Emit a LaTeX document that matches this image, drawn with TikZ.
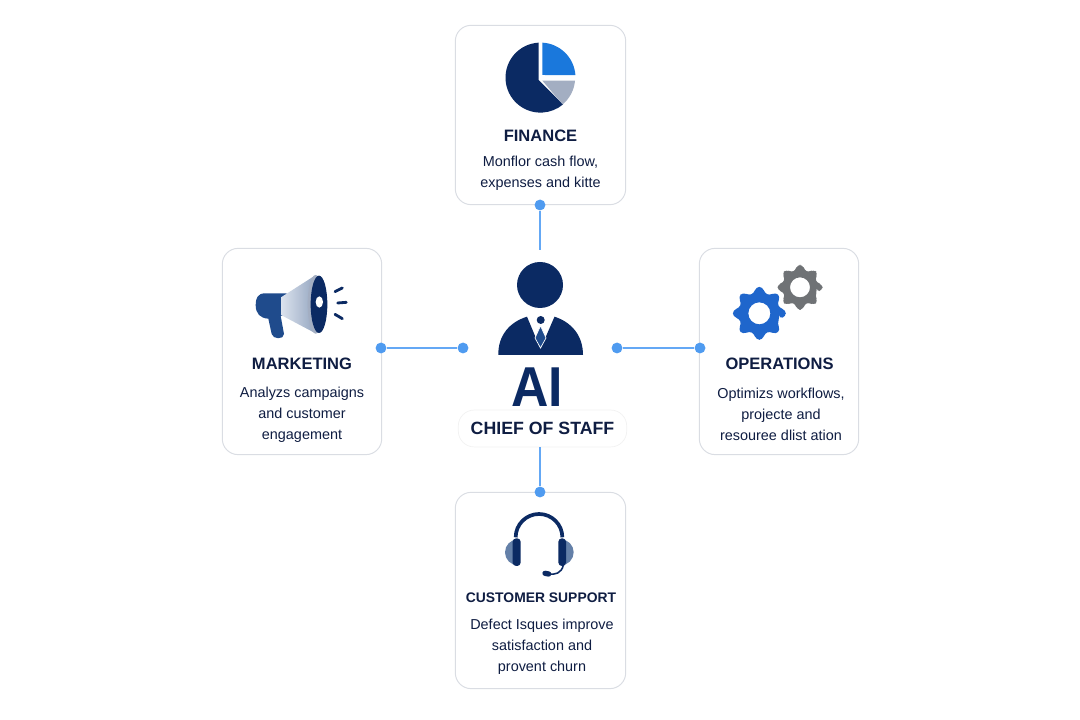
\documentclass[tikz,border=0pt]{standalone}
\usepackage{fontspec}
\setmainfont{Liberation Sans}
\definecolor{navy}{HTML}{0B2A63}
\definecolor{inkblue}{HTML}{0F1D42}
\definecolor{linkblue}{HTML}{64A8F5}
\definecolor{dotblue}{HTML}{4F9BF0}
\definecolor{edgegrey}{HTML}{DADDE3}
\definecolor{pieblue}{HTML}{1A78DC}
\definecolor{piegrey}{HTML}{A3AEC2}
\definecolor{hornblue}{HTML}{1F4B8C}
\definecolor{hornlight}{HTML}{DCE3EE}
\definecolor{horndark}{HTML}{97A8C2}
\definecolor{cogblue}{HTML}{1F66CC}
\definecolor{coggrey}{HTML}{6F7275}
\definecolor{padblue}{HTML}{6480A8}
\newcommand{\cogwheel}[6]{%
  \begin{scope}[shift={(#1,#2)}]
  \fill[#6, even odd rule, rounded corners=2pt] (-15:#4)
    \foreach \a in {0,45,...,315} { -- (\a-15:#4) -- (\a-7:#3) -- (\a+7:#3) -- (\a+15:#4) } -- cycle
    (0,0) circle (#5);
  \end{scope}}
\begin{document}
\begin{tikzpicture}[
  x=0.2mm, y=0.2mm,
  card/.style={draw=edgegrey, fill=white, line width=0.55pt, rounded corners=9pt},
  heading/.style={font=\fontsize{9.4}{11}\selectfont\bfseries, text=inkblue, inner sep=0pt},
  body/.style={font=\fontsize{8.2}{11.9}\selectfont, text=inkblue, align=center, inner sep=0pt},
  link/.style={draw=linkblue, line width=1.1pt},
  dot/.style={circle, fill=dotblue, inner sep=0pt, minimum size=6.2pt},
]
\useasboundingbox (0,0) rectangle (1080,720);
% cards
\node[card, minimum width=171*0.567pt, minimum height=180*0.567pt] (finance) at (540.5,605) {};
\node[card, minimum width=160*0.567pt, minimum height=207*0.567pt] (marketing) at (302,368.5) {};
\node[card, minimum width=160*0.567pt, minimum height=207*0.567pt] (operations) at (779,368.5) {};
\node[card, minimum width=171*0.567pt, minimum height=197*0.567pt] (support) at (540.5,129.5) {};
% centre labels
\node[font=\fontsize{32}{34}\selectfont\bfseries, text=navy, inner sep=0pt, xscale=0.92] (ai) at (537.5,333) {AI};
\node[draw=black!5, fill=white, line width=0.4pt, rounded corners=9pt, minimum width=169*0.567pt, minimum height=37*0.567pt,
  font=\fontsize{10.1}{12}\selectfont\bfseries, text=inkblue, inner sep=0pt] (pill) at (542.5,291.5) {CHIEF OF STAFF};
% connectors
\coordinate (fend) at (540,470);
\coordinate (mend) at (463,372);
\coordinate (oend) at (617,372);
\node[dot] (fdot) at (540,515) {};
\node[dot] (mdot) at (381,372) {};
\node[dot] (mend2) at (mend) {};
\node[dot] (odot) at (700,372) {};
\node[dot] (oend2) at (oend) {};
\node[dot] (sdot) at (540,228) {};
\draw[link] (fdot) -- (fend);
\draw[link] (mdot) -- (mend2);
\draw[link] (oend2) -- (odot);
\draw[link] (pill.south -| sdot) -- (sdot);
% person
\fill[navy] (540,435) circle (23);
\fill[navy] (498.3,365) .. controls (498,385) and (510,398) .. (527,403.3) -- (540.5,371) -- (554.5,403.3) .. controls (571,398) and (583,385) .. (583,365) -- cycle;
\fill[navy] (540.7,400) circle (4);
\fill[hornblue, draw=white, line width=0.4pt] (540.5,394.3) -- (535,382) -- (540.5,372) -- (546,382) -- cycle;
% finance
\node[heading] (financeh) at (540.5,584.5) {FINANCE};
\node[body] (financeb) at (540.5,546.5) {Monflor cash flow,\\expenses and kitte};
\begin{scope}[shift={(450,700)}, scale=1/3]
\fill[navy] (266,-180) -- (266,-68) arc[start angle=93, end angle=310, radius=105] -- cycle;
\fill[pieblue] (277,-165) -- (277,-68) arc[start angle=87, end angle=4, radius=105] -- cycle;
\fill[piegrey] (277,-182) -- (375,-182) arc[start angle=-5, end angle=-50, radius=105] -- cycle;
\end{scope}
% marketing
\node[heading] (marketingh) at (302,356) {MARKETING};
\node[body] (marketingb) at (302,305.5) {Analyzs campaigns\\and customer\\engagement};
\begin{scope}[shift={(215,480)}, scale=1/3]
\fill[hornblue] (215,-160) -- (150,-160) .. controls (128,-160) and (122,-175) .. (122,-195) .. controls (122,-220) and (135,-235) .. (160,-236) -- (170,-282) .. controls (173,-298) and (207,-300) .. (207,-282) -- (197,-228) -- (215,-226) -- cycle;
\shade[left color=hornlight, right color=horndark] (198,-172) -- (298,-108) -- (298,-278) -- (198,-225) -- cycle;
\fill[piegrey] (302,-193) ellipse[x radius=24, y radius=88];
\fill[navy] (312,-193) ellipse[x radius=25, y radius=86];
\fill[white] (313,-186) ellipse[x radius=11, y radius=17];
\draw[navy, line width=1.6pt, line cap=round] (360,-155) -- (382,-144);
\draw[navy, line width=1.6pt, line cap=round] (368,-189) -- (394,-187);
\draw[navy, line width=1.6pt, line cap=round] (360,-223) -- (382,-236);
\end{scope}
% operations
\node[heading] (operationsh) at (779.5,356) {OPERATIONS};
\node[body] (operationsb) at (781,305.5) {Optimizs workflows,\\projecte and\\resouree dlist ation};
\begin{scope}[shift={(610,480)}, scale=1/3]
\cogwheel{570}{-142}{68}{52}{30}{coggrey}
\cogwheel{448}{-220}{80}{62}{33}{cogblue}
\end{scope}
% customer support
\node[heading, font=\fontsize{7.9}{11}\selectfont\bfseries] (supporth) at (541,122) {CUSTOMER SUPPORT};
\node[body] (supportb) at (542,73) {Defect Isques improve\\satisfaction and\\provent churn};
\begin{scope}[shift={(450,280)}, scale=1/3]
\fill[padblue] (204,-298) arc[start angle=90, end angle=270, radius=39] -- cycle;
\fill[padblue] (332,-298) arc[start angle=90, end angle=-90, radius=39] -- cycle;
\draw[navy, line width=2.1pt] (197,-292) arc[start angle=180, end angle=0, radius=70];
\fill[navy, rounded corners=2pt] (188,-295) rectangle (212,-378);
\fill[navy, rounded corners=2pt] (325,-295) rectangle (348,-378);
\draw[navy, line width=0.9pt] (340,-375) .. controls (335,-400) and (315,-405) .. (295,-402);
\draw[navy, line width=3pt, line cap=round] (285,-400) -- (296,-402);
\end{scope}
\end{tikzpicture}
\end{document}
